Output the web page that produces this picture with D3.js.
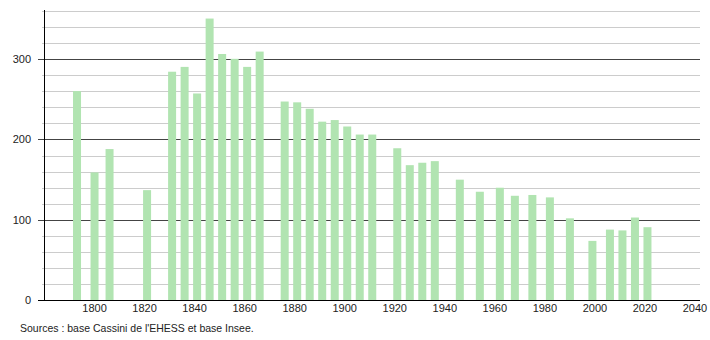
<!DOCTYPE html>
<head>
	<meta charset="utf-8">
	<title>Population</title>
<style>
	body {
		margin:0;
		background-color: #ffffff;
		font-family: "Liberation Sans", Arial, sans-serif;
	}
	svg {
		display:block;
	}
	.bar {
		fill: #b1e4b1;
	}
	.minor {
		stroke: #cccccc;
		stroke-width: 1px;
	}
	.major {
		stroke: #444444;
		stroke-width: 1px;
	}
	.lbl {
		font-size: 11px;
		fill: #222222;
	}
</style>
</head>
<script src="https://d3js.org/d3.v7.min.js"></script>
<body>
	<script>
		// recensements
		var years = [1793, 1800, 1806, 1821, 1831, 1836, 1841, 1846, 1851, 1856, 1861, 1866,
			1876, 1881, 1886, 1891, 1896, 1901, 1906, 1911, 1921, 1926, 1931, 1936,
			1946, 1954, 1962, 1968, 1975, 1982, 1990, 1999, 2006, 2011, 2016, 2021];
		var population = [260, 159, 188, 137, 284, 290, 257, 350, 306, 300, 290, 309,
			247, 246, 238, 222, 224, 216, 206, 206, 189, 168, 171, 173,
			150, 135, 140, 130, 131, 128, 102, 74, 88, 87, 103, 91];
		var yearTicks = [1800, 1820, 1840, 1860, 1880, 1900, 1920, 1940, 1960, 1980, 2000, 2020, 2040];
		var popTicks = [0, 100, 200, 300];
		var source = "Sources : base Cassini de l'EHESS et base Insee.";

		var width = 710;
		var height = 340;

		var svg = d3.select("body").append("svg")
			.attr("width", width)
			.attr("height", height);

		var x = d3.scaleLinear()
			.domain([1780, 2042])
			.range([44.5, 700]);

		var y = d3.scaleLinear()
			.domain([0, 360])
			.range([300.5, 10.5]);

		var grid = svg.append("g");
		var bars = svg.append("g");
		var axes = svg.append("g");

		// lignes de grille tous les 20
		grid.selectAll("line")
			.data(d3.range(20, 361, 20))
			.enter().append("line")
			.attr("class", function(d) {return d % 100 == 0 ? "major" : "minor"})
			.attr("x1", function(d) {return d % 100 == 0 ? 38 : 42})
			.attr("x2", 700)
			.attr("y1", function(d) {return Math.round(y(d)) + 0.5})
			.attr("y2", function(d) {return Math.round(y(d)) + 0.5});

		bars.selectAll("rect")
			.data(years)
			.enter().append("rect")
			.attr("class", "bar")
			.attr("x", function(d) {return x(d) - 4})
			.attr("width", 8)
			.attr("y", function(d, i) {return y(population[i])})
			.attr("height", function(d, i) {return y(0) - y(population[i])});

		axes.append("line")
			.attr("x1", 44.5).attr("x2", 44.5)
			.attr("y1", 10).attr("y2", 301)
			.style("stroke", "#000");
		axes.append("line")
			.attr("x1", 38).attr("x2", 700)
			.attr("y1", 300.5).attr("y2", 300.5)
			.style("stroke", "#000");

		axes.selectAll("text.ylbl")
			.data(popTicks)
			.enter().append("text")
			.attr("class", "lbl ylbl")
			.attr("x", 31)
			.attr("y", function(d) {return y(d)})
			.attr("dy", "0.35em")
			.attr("text-anchor", "end")
			.text(function(d) {return d});

		axes.selectAll("text.xlbl")
			.data(yearTicks)
			.enter().append("text")
			.attr("class", "lbl xlbl")
			.attr("x", function(d) {return x(d)})
			.attr("y", 312)
			.attr("text-anchor", "middle")
			.text(function(d) {return d});

		svg.append("text")
			.attr("class", "lbl")
			.attr("x", 20)
			.attr("y", 332)
			.style("font-size", "10.5px")
			.text(source);
	</script>
</body>
